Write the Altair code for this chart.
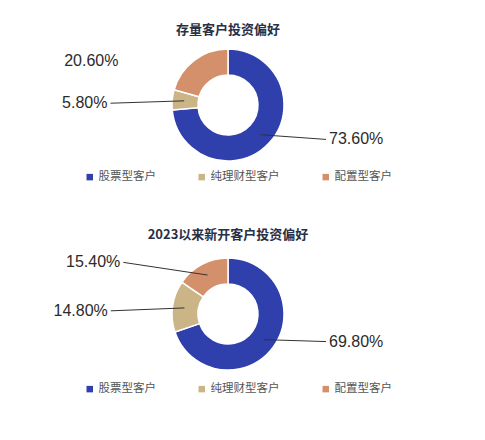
import math
import altair as alt
import pandas as pd

# ---- data ----
categories = ["股票型客户", "纯理财型客户", "配置型客户"]
colors = ["#2f3fab", "#cbb486", "#d4906b"]

title_existing = "存量客户投资偏好"
values_existing = [73.6, 5.8, 20.6]
leader_existing = [True, True, False]

title_new = "2023以来新开客户投资偏好"
values_new = [69.8, 14.8, 15.4]
leader_new = [True, True, True]

# ---- layout constants ----
W, H = 440, 194
R_OUT, R_IN, R_ANCHOR = 56, 30, 44
LABEL_FONT = "Liberation Sans"
CJK_FONT = "Noto Sans CJK SC"


def build_table(values, leaders):
    total = sum(values)
    rows = []
    acc = 0.0
    for i, (c, v, show) in enumerate(zip(categories, values, leaders)):
        mid = (acc + v / 2) / total * 2 * math.pi
        acc += v
        s, co = math.sin(mid), math.cos(mid)
        ax, ay = R_ANCHOR * s, -R_ANCHOR * co
        k = math.copysign(abs(co) ** 1.5, co)
        ly = -62 * k
        if s > 0:
            side = "right"
            lx = 101
            lend = lx - 3
        else:
            side = "left"
            lx = -121 + 16 * abs(k)
            lend = lx + 3
        rows.append(dict(idx=i, category=c, value=v, label=f"{v:.2f}%",
                         ax=ax, ay=ay, lx=lx, ly=ly, lend=lend,
                         side=side, show=show))
    return pd.DataFrame(rows)


def panel(title, values, leaders, title_y, legend_y):
    df = build_table(values, leaders)
    xs = alt.Scale(domain=[-W / 2, W / 2], nice=False, zero=False)
    ys = alt.Scale(domain=[-H / 2, H / 2], nice=False, zero=False, reverse=True)

    arc = alt.Chart(df).mark_arc(
        innerRadius=R_IN, outerRadius=R_OUT, stroke="white", strokeWidth=1.5
    ).encode(
        theta=alt.Theta("value:Q", stack=True),
        order=alt.Order("idx:Q"),
        color=alt.Color(
            "category:N",
            scale=alt.Scale(domain=categories, range=colors),
            legend=alt.Legend(
                title=None, orient="none", legendX=76, legendY=legend_y,
                direction="horizontal", columns=3, symbolType="square",
                symbolSize=42, symbolStrokeWidth=0, labelFontSize=11.5,
                labelFont=CJK_FONT, labelColor="#555555", columnPadding=40,
                labelOffset=3,
            ),
        ),
    )

    rules = alt.Chart(df).transform_filter("datum.show").mark_rule(
        color="#333333", strokeWidth=1
    ).encode(
        x=alt.X("ax:Q", scale=xs, axis=None),
        y=alt.Y("ay:Q", scale=ys, axis=None),
        x2="lend:Q",
        y2="ly:Q",
    )

    txt_right = alt.Chart(df).transform_filter("datum.side == 'right'").mark_text(
        align="left", baseline="middle", fontSize=16, font=LABEL_FONT, color="#2b2b2b"
    ).encode(
        x=alt.X("lx:Q", scale=xs, axis=None),
        y=alt.Y("ly:Q", scale=ys, axis=None),
        text="label:N",
    )
    txt_left = alt.Chart(df).transform_filter("datum.side == 'left'").mark_text(
        align="right", baseline="middle", fontSize=16, font=LABEL_FONT, color="#2b2b2b"
    ).encode(
        x=alt.X("lx:Q", scale=xs, axis=None),
        y=alt.Y("ly:Q", scale=ys, axis=None),
        text="label:N",
    )

    tdf = pd.DataFrame({"t": [title], "x": [0], "y": [title_y]})
    ttl = alt.Chart(tdf).mark_text(
        align="center", baseline="middle", fontSize=13, fontWeight="bold",
        font=CJK_FONT, color="#2a2f45"
    ).encode(
        x=alt.X("x:Q", scale=xs, axis=None),
        y=alt.Y("y:Q", scale=ys, axis=None),
        text="t:N",
    )

    return alt.layer(arc, rules, txt_right, txt_left, ttl).properties(width=W, height=H)


top = panel(title_existing, values_existing, leader_existing, -75, 163)
bottom = panel(title_new, values_new, leader_new, -79, 166)

chart = alt.vconcat(top, bottom, spacing=15).resolve_scale(
    color="independent"
).resolve_legend(color="independent").properties(
    padding=0, background="#ffffff"
).configure_view(stroke=None)

chart.save("out.html", embed_options={"renderer": "svg", "actions": False})
